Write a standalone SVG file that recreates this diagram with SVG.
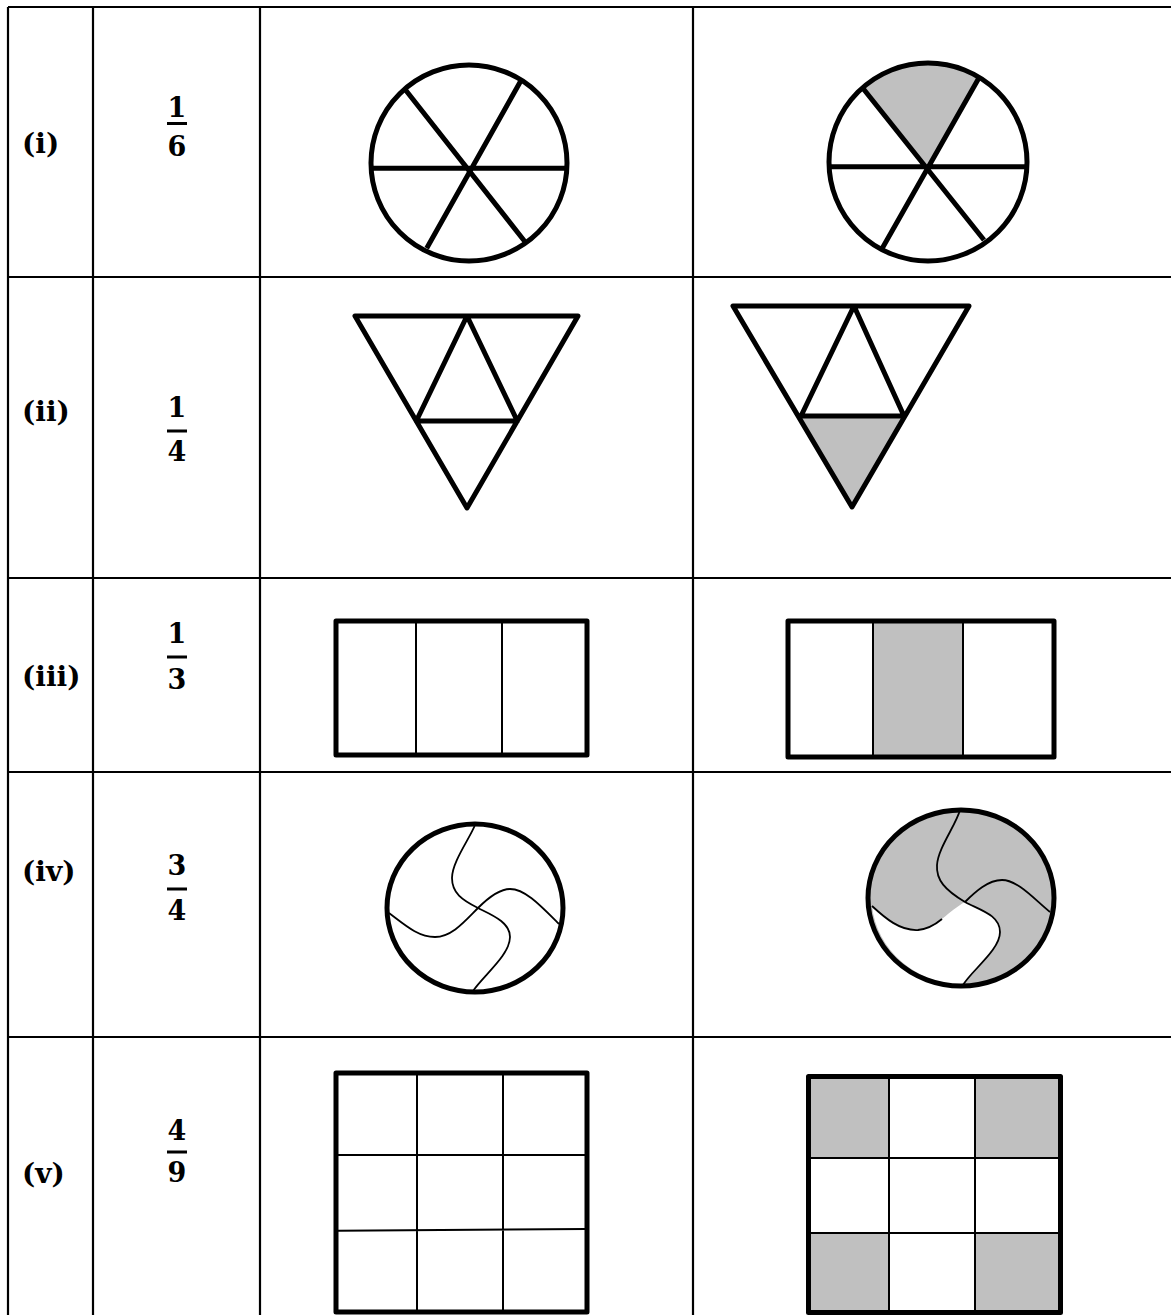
<svg xmlns="http://www.w3.org/2000/svg" width="1171" height="1315" viewBox="0 0 1171 1315">
<style>
.grid{stroke:#000;stroke-width:2.2;fill:none}
.lbl{font-family:"DejaVu Serif","Liberation Serif",serif;font-weight:bold;font-size:28px;fill:#000}
.num{font-family:"DejaVu Serif","Liberation Serif",serif;font-weight:bold;font-size:27px;fill:#000;text-anchor:middle}
.bar{stroke:#000;stroke-width:3}
.thick{stroke:#000;stroke-width:5;fill:none;stroke-linejoin:round}
.thin{stroke:#000;stroke-width:2;fill:none}
.curve{stroke:#000;stroke-width:1.8;fill:none}
.shade{fill:#c0c0c0}
</style>
<rect width="1171" height="1315" fill="#fff"/>
<g id="table">
<path class="grid" d="M8,7 H1171 M8,277 H1171 M8,578 H1171 M8,772 H1171 M8,1037 H1171 M8,7 V1315 M93,7 V1315 M260,7 V1315 M693,7 V1315"/>
</g>
<g id="row1">
<text class="lbl" x="22" y="153">(i)</text>
<text class="num" x="177" y="117">1</text>
<line class="bar" x1="167" y1="123.5" x2="187" y2="123.5"/>
<text class="num" x="177" y="156">6</text>
</g>
<g id="row2">
<text class="lbl" x="22" y="421">(ii)</text>
<text class="num" x="177" y="417">1</text>
<line class="bar" x1="167" y1="431" x2="187" y2="431"/>
<text class="num" x="177" y="461">4</text>
</g>
<g id="row3">
<text class="lbl" x="22" y="686">(iii)</text>
<text class="num" x="177" y="643">1</text>
<line class="bar" x1="167" y1="657" x2="187" y2="657"/>
<text class="num" x="177" y="689">3</text>
</g>
<g id="row4">
<text class="lbl" x="22" y="881">(iv)</text>
<text class="num" x="177" y="875">3</text>
<line class="bar" x1="167" y1="889" x2="187" y2="889"/>
<text class="num" x="177" y="920">4</text>
</g>
<g id="row5">
<text class="lbl" x="22" y="1183">(v)</text>
<text class="num" x="177" y="1140">4</text>
<line class="bar" x1="167" y1="1152" x2="187" y2="1152"/>
<text class="num" x="177" y="1182">9</text>
</g>
<g id="circle-1-whole">
<circle class="thick" cx="469" cy="163" r="98"/>
<path class="thick" d="M370,168.3 H568 M405,89.3 L525,241.7 M521.7,79.3 L426.7,248.3"/>
</g>
<g id="circle-1-shaded">
<path class="shade" d="M926.7,166.7 L861.7,86.7 A100,100 0 0 1 979.3,77.3 Z"/>
<circle class="thick" cx="928" cy="162" r="99"/>
<path class="thick" d="M829,166.7 H1027 M861.7,86.7 L984,240 M979.3,77.3 L881.7,249.3"/>
</g>
<g id="triangle-1-whole">
<path class="thick" d="M355,316 H578 L467,508 Z M467,316 L416.3,421 H517.3 Z"/>
</g>
<g id="triangle-1-shaded">
<path class="shade" d="M801,416 H904 L852,507 Z"/>
<path class="thick" d="M733,306 H969 L852,507 Z M854,306 L801,416 H904 Z"/>
</g>
<g id="rect-1-whole">
<rect class="thick" x="336" y="621" width="251" height="134"/>
<path class="thin" d="M416,621 V755 M502,621 V755"/>
</g>
<g id="rect-1-shaded">
<rect class="shade" x="873" y="620" width="90" height="137"/>
<rect class="thick" x="788" y="621" width="266" height="136"/>
<path class="thin" d="M873,621 V757 M963,621 V757"/>
</g>
<g id="circle-4-whole">
<ellipse class="thick" cx="475" cy="908" rx="88" ry="84"/>
<path class="curve" d="M475,825 C470,838 452,862 452,878 C452,893 462,900 478,908 C492,915 510,922 510,937 C510,955 484,975 473,991"/>
<path class="curve" d="M389,913 C405,925 418,937 435,937 C452,937 465,921 478,908 C490,896 500,889 510,889 C525,889 540,905 559,924"/>
</g>
<g id="circle-4-shaded">
<ellipse class="shade" cx="961" cy="898" rx="93" ry="88"/>
<path fill="#fff" d="M872,906 C885,918 900,931 918,930 C935,929 950,910 965,902 C980,910 1000,915 1000,932 C1000,950 972,970 963,985 A93,88 0 0 1 872,906 Z"/>
<path class="curve" d="M960,810 C956,825 938,848 937,865 C936,880 945,890 965,902 C980,910 1000,915 1000,932 C1000,950 972,970 963,985"/>
<path class="curve" d="M872,906 C885,918 900,931 918,930 C928,929 936,924 942,919 M965,902 C975,892 988,880 1002,880 C1018,880 1035,900 1050,912"/>
<ellipse class="thick" cx="961" cy="898" rx="93" ry="88"/>
</g>
<g id="grid-9-whole">
<rect class="thick" x="336" y="1073" width="251" height="239"/>
<path class="thin" d="M417,1073 V1312 M503,1073 V1312 M336,1155 H587 M338,1230.7 L586,1229"/>
</g>
<g id="grid-9-shaded">
<rect class="shade" x="808" y="1076" width="81" height="82"/>
<rect class="shade" x="975" y="1076" width="86" height="82"/>
<rect class="shade" x="808" y="1233" width="81" height="80"/>
<rect class="shade" x="975" y="1233" width="86" height="80"/>
<rect class="thick" x="808.5" y="1076.5" width="252" height="236"/>
<path class="thin" d="M889,1076 V1313 M975,1076 V1313 M808,1158 H1061 M808,1233 H1061"/>
</g>
</svg>
